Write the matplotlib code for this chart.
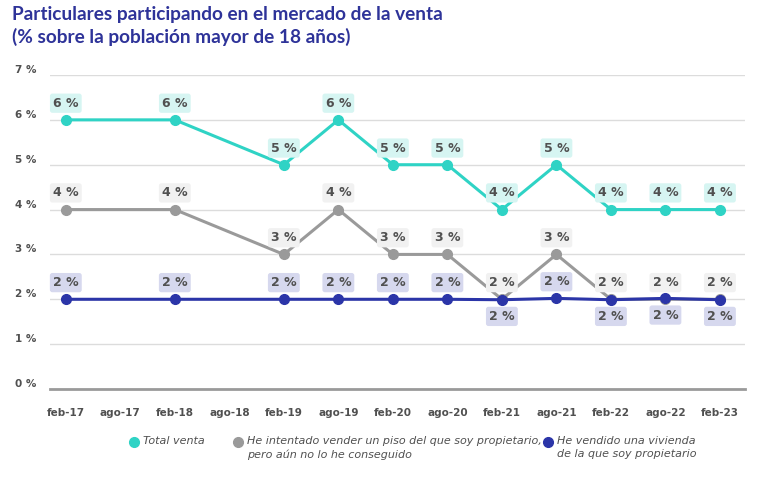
import matplotlib
matplotlib.use("Agg")
import matplotlib.pyplot as plt
from matplotlib.lines import Line2D
import numpy as np

# categorías del eje x (semestrales)
periods = ["feb-17", "ago-17", "feb-18", "ago-18", "feb-19", "ago-19", "feb-20",
           "ago-20", "feb-21", "ago-21", "feb-22", "ago-22", "feb-23"]

# fechas con dato
obs = ["feb-17", "feb-18", "feb-19", "ago-19", "feb-20", "ago-20", "feb-21",
       "ago-21", "feb-22", "ago-22", "feb-23"]

total_venta = [6, 6, 5, 6, 5, 5, 4, 5, 4, 4, 4]
intentado = [4, 4, 3, 4, 3, 3, 2, 3, 2, 2, 2]
vendido = [2, 2, 2, 2, 2, 2, 1.99, 2.02, 1.99, 2.02, 1.99]

# etiqueta de "vendido" arriba (1) o abajo (-1)
vendido_pos = [1, 1, 1, 1, 1, 1, -1, 1, -1, -1, -1]

yticks = [0, 1, 2, 3, 4, 5, 6, 7]

title = "Particulares participando en el mercado de la venta\n(% sobre la población mayor de 18 años)"
labels = ["Total venta",
          "He intentado vender un piso del que soy propietario,\npero aún no lo he conseguido",
          "He vendido una vivienda\nde la que soy propietario"]

c_teal, c_gray, c_navy = "#2fd3c5", "#9a9a9a", "#2b35a8"
b_teal, b_gray, b_navy = "#d6f5f2", "#f1f1f1", "#d6d8ee"
txt_col = "#505050"

x = np.array([periods.index(p) for p in obs])

W, H = 768, 487
fig = plt.figure(figsize=(W / 100, H / 100), dpi=100)
ax = fig.add_axes([50 / W, 98 / H, 695 / W, 314 / H])

ax.set_ylim(0, 7)
ax.set_xlim(-0.29, 12.46)
ax.set_yticks(yticks)
ax.set_yticklabels([f"{v} %" for v in yticks])
ax.set_xticks(range(len(periods)))
ax.set_xticklabels(periods)
ax.tick_params(length=0, labelsize=7.5, labelcolor=txt_col)
ax.tick_params(axis="y", pad=10)
ax.tick_params(axis="x", pad=14)
for t in ax.get_xticklabels() + ax.get_yticklabels():
    t.set_fontweight("bold")
for t in ax.get_yticklabels():
    t.set_va("bottom")

for s in ["top", "right", "left"]:
    ax.spines[s].set_visible(False)
ax.spines["bottom"].set_color("#9a9a9a")
ax.spines["bottom"].set_linewidth(2)
ax.grid(axis="y", color="#dcdcdc", lw=1)
ax.set_axisbelow(True)

series = [
    (total_venta, c_teal, b_teal, [1] * len(obs)),
    (intentado, c_gray, b_gray, [1] * len(obs)),
    (vendido, c_navy, b_navy, vendido_pos),
]

for vals, col, box, pos in series:
    ax.plot(x, vals, color=col, lw=2.2, marker="o", ms=7, zorder=3)
    for xi, v, p in zip(x, vals, pos):
        ax.annotate(f"{round(v)} %", (xi, v), xytext=(0, 12 * p), textcoords="offset points",
                    ha="center", va="center", fontsize=9, fontweight="bold", color=txt_col,
                    bbox=dict(boxstyle="round,pad=0.25,rounding_size=0.2", fc=box, ec="none"),
                    zorder=4)

fig.text(12 / W, 1 - 6 / H, title, fontsize=13.7, fontweight="bold", color="#2e3399",
         family="Lato", va="top", ha="left", linespacing=1.35)

# leyenda manual: marcador alineado con la primera línea
leg_x = [134, 238, 548]
leg_y = 442
for lx, lab, col in zip(leg_x, labels, [c_teal, c_gray, c_navy]):
    fig.add_artist(Line2D([lx / W], [1 - leg_y / H], transform=fig.transFigure,
                          marker="o", ms=7, color=col, ls="none"))
    fig.text((lx + 9) / W, 1 - (leg_y - 6) / H, lab, fontsize=8, style="italic",
             color=txt_col, va="top", ha="left", linespacing=1.4)

fig.savefig("out.png", dpi=100)
